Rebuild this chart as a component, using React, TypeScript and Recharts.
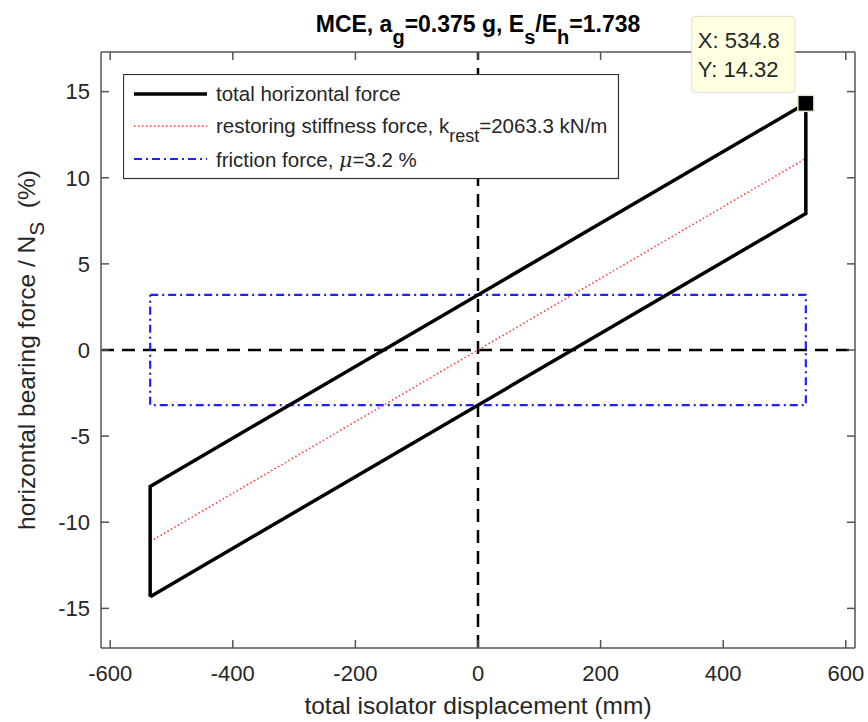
import React from 'react';
import { ComposedChart, Line, XAxis, YAxis, ReferenceLine, ReferenceDot, Legend, Label } from 'recharts';

const FONT = '"Liberation Sans", Arial, Helvetica, sans-serif';
const INK = '#262626';
const AXIS = '#555';

// axis ticks
const xTicks = [-600, -400, -200, 0, 200, 400, 600];
const yTicks = [-15, -10, -5, 0, 5, 10, 15];

// total horizontal force loop
const loopX = [-534.8, 534.8, 534.8, -534.8, -534.8];
const loopY = [-14.32, 7.92, 14.32, -7.92, -14.32];
// restoring stiffness force
const restX = [-534.8, 534.8];
const restY = [-11.12, 11.12];
// friction force
const fricX = [-534.8, 534.8, 534.8, -534.8, -534.8];
const fricY = [3.2, 3.2, -3.2, -3.2, 3.2];
// data tip
const tipX = 534.8;
const tipY = 14.32;

const toPts = (xs: number[], ys: number[]) => xs.map((x, i) => ({ x, y: ys[i] }));

const loopData = toPts(loopX, loopY);
const restData = toPts(restX, restY);
const fricData = toPts(fricX, fricY);

const LegendBox = () => (
  <svg width={497} height={106} style={{ display: 'block', fontFamily: FONT }}>
    <rect x={0.5} y={0.5} width={495} height={104} fill="#fff" stroke="#333" strokeWidth={1.2} />
    <line x1={11} x2={84} y1={20} y2={20} stroke="#000" strokeWidth={3.5} />
    <text x={93} y={27} fontSize={20.5} fill={INK}>total horizontal force</text>
    <line x1={11} x2={84} y1={52} y2={52} stroke="#ff3b3b" strokeWidth={1.6} strokeDasharray="1.5 2.5" />
    <text x={93} y={59} fontSize={20.5} fill={INK}>
      restoring stiffness force, k<tspan dy={9} fontSize={18}>rest</tspan>
      <tspan dy={-9}>=2063.3 kN/m</tspan>
    </text>
    <line x1={11} x2={84} y1={85} y2={85} stroke="#2020ff" strokeWidth={2.2} strokeDasharray="8 4 2 4" />
    <text x={93} y={93} fontSize={20.5} fill={INK}>
      friction force, <tspan fontStyle="italic" fontFamily="'DejaVu Serif', serif">μ</tspan>=3.2 %
    </text>
  </svg>
);

const DataTip = (props: any) => {
  const { cx, cy } = props;
  if (cx == null || cy == null) return null;
  return (
    <g>
      <rect x={cx - 114} y={cy - 87} width={103} height={76} rx={3} fill="#ffffe1" stroke="#e0e0d0" strokeWidth={1} />
      <text x={cx - 108} y={cy - 55} fontSize={22} fill={INK} fontFamily={FONT}>X: 534.8</text>
      <text x={cx - 108} y={cy - 26} fontSize={22} fill={INK} fontFamily={FONT}>Y: 14.32</text>
      <rect x={cx - 8} y={cy - 8} width={16} height={16} fill="#000" stroke="#e8e8c8" strokeWidth={1.5} />
    </g>
  );
};

const tickStyle = { fontSize: 22, fill: INK, fontFamily: FONT };
const lineStyle = { stroke: AXIS, strokeWidth: 1.5 };

export default function App() {
  return (
    <div style={{ position: 'absolute', left: 0, top: 0, background: '#fff' }}>
      <ComposedChart
        width={868}
        height={722}
        margin={{ top: 51, right: 12, bottom: 73, left: 100 }}
        style={{ fontFamily: FONT }}
      >
        <XAxis
          xAxisId="b"
          type="number"
          dataKey="x"
          domain={[-615, 615]}
          ticks={xTicks}
          allowDataOverflow
          height={1}
          tickSize={-8}
          tickMargin={25}
          tick={tickStyle}
          axisLine={lineStyle}
          tickLine={lineStyle}
        >
          <Label
            content={(p: any) => {
              const vb = p.viewBox;
              return (
                <text x={vb.x + vb.width / 2} y={714} textAnchor="middle" fontSize={24.5} fill={INK} fontFamily={FONT}>
                  total isolator displacement (mm)
                </text>
              );
            }}
          />
        </XAxis>
        <XAxis
          xAxisId="t"
          orientation="top"
          type="number"
          dataKey="x"
          domain={[-615, 615]}
          ticks={xTicks}
          allowDataOverflow
          height={1}
          tickSize={-8}
          tickFormatter={() => ''}
          axisLine={lineStyle}
          tickLine={lineStyle}
        >
          <Label
            content={(p: any) => {
              const vb = p.viewBox;
              return (
                <text x={vb.x + vb.width / 2} y={32} textAnchor="middle" fontSize={23} fontWeight="bold" fill="#000" fontFamily={FONT}>
                  MCE, a<tspan dy={12} fontSize={20}>g</tspan>
                  <tspan dy={-12}>=0.375 g, E</tspan>
                  <tspan dy={12} fontSize={20}>s</tspan>
                  <tspan dy={-12}>/E</tspan>
                  <tspan dy={12} fontSize={20}>h</tspan>
                  <tspan dy={-12}>=1.738</tspan>
                </text>
              );
            }}
          />
        </XAxis>
        <YAxis
          yAxisId="l"
          type="number"
          domain={[-17.3, 17.3]}
          ticks={yTicks}
          allowDataOverflow
          width={1}
          tickSize={-8}
          tickMargin={19}
          tick={tickStyle}
          axisLine={lineStyle}
          tickLine={lineStyle}
        >
          <Label
            content={(p: any) => {
              const vb = p.viewBox;
              const cx = 35;
              const cy = vb.y + vb.height / 2;
              return (
                <text
                  x={cx}
                  y={cy}
                  transform={`rotate(-90 ${cx} ${cy})`}
                  textAnchor="middle"
                  fontSize={24.5}
                  fill={INK}
                  fontFamily={FONT}
                >
                  horizontal bearing force / N<tspan dy={9} fontSize={21}>S</tspan>
                  <tspan dy={-9}>{'\u00a0\u00a0'}(%)</tspan>
                </text>
              );
            }}
          />
        </YAxis>
        <YAxis
          yAxisId="r"
          orientation="right"
          type="number"
          domain={[-17.3, 17.3]}
          ticks={yTicks}
          allowDataOverflow
          width={1}
          tickSize={-8}
          tickFormatter={() => ''}
          axisLine={lineStyle}
          tickLine={lineStyle}
        />

        <ReferenceLine xAxisId="b" yAxisId="l" y={0} stroke="#000" strokeWidth={2.5} strokeDasharray="13 8" />
        <ReferenceLine xAxisId="b" yAxisId="l" x={0} stroke="#000" strokeWidth={2.5} strokeDasharray="13 8" />

        <Line
          xAxisId="b"
          yAxisId="l"
          data={fricData}
          dataKey="y"
          type="linear"
          stroke="#2020ff"
          strokeWidth={2.2}
          strokeDasharray="8 4 2 4"
          strokeLinejoin="round"
          dot={false}
          activeDot={false}
          isAnimationActive={false}
        />
        <Line
          xAxisId="b"
          yAxisId="l"
          data={restData}
          dataKey="y"
          type="linear"
          stroke="#ff3b3b"
          strokeWidth={1.6}
          strokeDasharray="1.5 2.5"
          dot={false}
          activeDot={false}
          isAnimationActive={false}
        />
        <Line
          xAxisId="b"
          yAxisId="l"
          data={loopData}
          dataKey="y"
          type="linear"
          stroke="#000"
          strokeWidth={3.5}
          strokeLinejoin="miter"
          dot={false}
          activeDot={false}
          isAnimationActive={false}
        />

        <Legend
          layout="horizontal"
          verticalAlign="middle"
          align="center"
          wrapperStyle={{ position: 'absolute', left: 123, top: 74, width: 497, height: 106 }}
          content={() => <LegendBox />}
        />

        <ReferenceDot
          xAxisId="b"
          yAxisId="l"
          x={tipX}
          y={tipY}
          ifOverflow="visible"
          zIndex={3000}
          shape={(p: any) => <DataTip {...p} />}
        />
      </ComposedChart>
    </div>
  );
}
